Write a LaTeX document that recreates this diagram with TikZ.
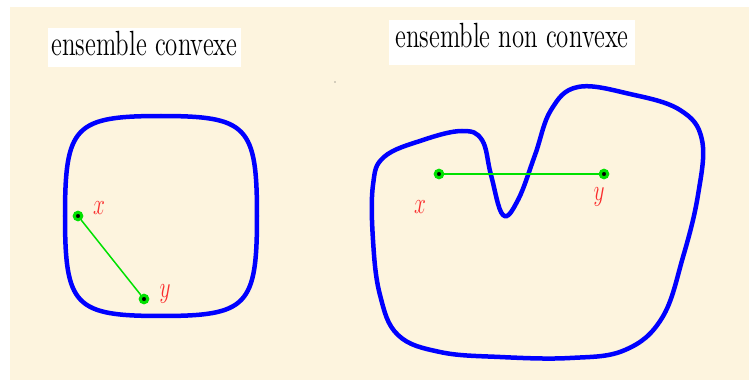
\documentclass[tikz,border=0pt]{standalone}
\usepackage{amsmath,amssymb}
\usepackage{graphicx}
\usepackage{tikz}
\usetikzlibrary{arrows.meta,positioning}

\definecolor{fond}{RGB}{253,244,222}
\definecolor{vert}{RGB}{0,225,0}
\definecolor{rouge}{RGB}{250,45,45}
\newcommand{\serre}[1]{\scalebox{0.71}[1]{#1}}

\tikzset{
  bord/.style={draw=blue,line width=1.8pt},
  seg/.style={draw=vert,line width=0.6pt},
  pnt/.style={circle,fill=black,draw=vert,line width=1.2pt,inner sep=0pt,minimum size=3pt},
  lab/.style={text=rouge,inner sep=0pt,font=\fontsize{12}{14}\selectfont},
  titre/.style={fill=white,inner ysep=0pt,anchor=base,font=\fontsize{14}{16}\selectfont}
}

\begin{document}
\begin{tikzpicture}[x=0.4pt,y=-0.4pt]
  \useasboundingbox (0,0) rectangle (749,380);
  % Fond
  \fill[fond] (10,7) rectangle (749,380);
  \fill[black!70] (335,82) circle (0.7);
  % Titres
  \node[titre,inner xsep=1.2pt,text height=10.8pt,text depth=4.8pt] (t1) at (144.5,55) {\serre{ensemble convexe}};
  \node[titre,inner xsep=2.4pt,text height=10.8pt,text depth=7.2pt] (t2) at (512,47) {\serre{ensemble non convexe}};
  % Ensemble convexe
  \draw[bord] (161,116) .. controls (247.4,116) and (257,126) .. (257,216)
    .. controls (257,306) and (247.4,316) .. (161,316)
    .. controls (74.6,316) and (65,306) .. (65,216)
    .. controls (65,126) and (74.6,116) .. (161,116) -- cycle;
  \node[pnt] (x1) at (78,216) {};
  \node[pnt] (y1) at (144,299) {};
  \draw[seg] (x1) -- (y1);
  \node[lab] (lx1) at (99,208) {\serre{$x$}};
  \node[lab] (ly1) at (165,294) {\serre{$y$}};
  % Ensemble non convexe
  \draw[bord] plot[smooth cycle,tension=0.65] coordinates {
    (373,185) (384,157) (423,140) (462,131) (482,140) (491,175) (503,215)
    (518,200) (535,155) (551,110) (578,87) (630,94) (680,110) (702,140)
    (698,195) (683,257) (662,318) (625,350) (570,358) (500,357) (440,352)
    (398,335) (380,295) (373,240)};
  \node[pnt] (x2) at (439,174) {};
  \node[pnt] (y2) at (604,174) {};
  \draw[seg] (x2) -- (y2);
  \node[lab] (lx2) at (420,207) {\serre{$x$}};
  \node[lab] (ly2) at (599,197) {\serre{$y$}};
\end{tikzpicture}
\end{document}
